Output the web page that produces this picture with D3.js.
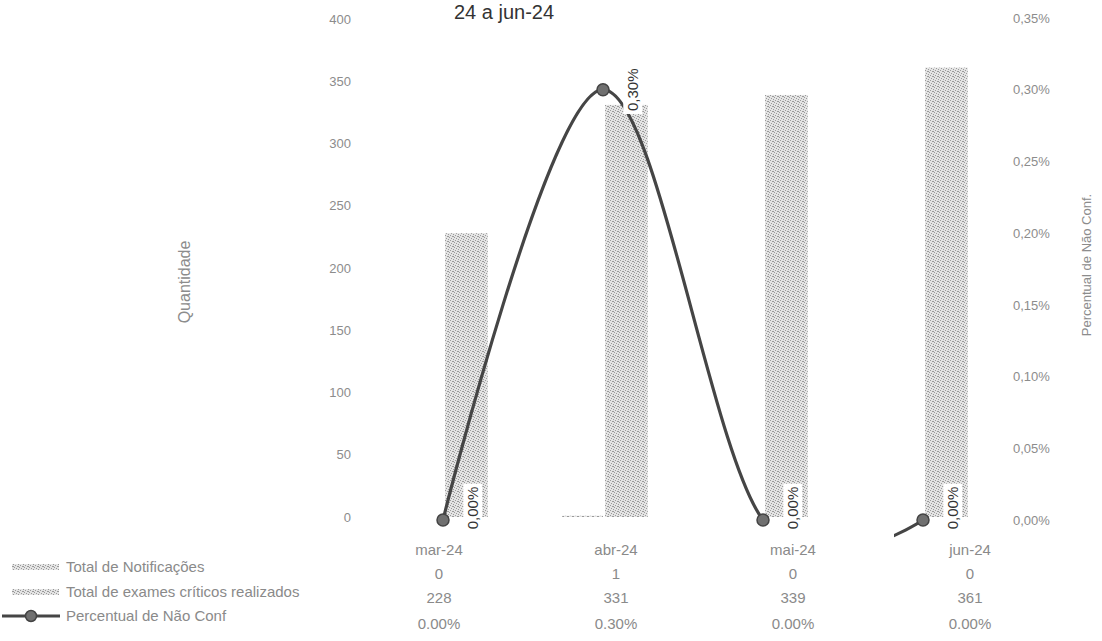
<!DOCTYPE html>
<html><head><meta charset="utf-8">
<script src="https://cdn.jsdelivr.net/npm/d3@7"></script>
<style>
html,body{margin:0;padding:0;background:#fff;}
svg{display:block;font-family:"Liberation Sans",Arial,sans-serif;}
</style></head>
<body>
<svg id="chart" width="1102" height="641"></svg>
<script>
const categories = ["mar-24","abr-24","mai-24","jun-24"];
const notificacoes = [0,1,0,0];
const exames = [228,331,339,361];
const percentual = [0.0000,0.0030,0.0000,0.0000];
const pctLabels = ["0,00%","0,30%","0,00%","0,00%"];
const pctTable = ["0.00%","0.30%","0.00%","0.00%"];
const leftTicks = [0,50,100,150,200,250,300,350,400];
const rightTicks = [0,0.0005,0.001,0.0015,0.002,0.0025,0.003,0.0035];
const seriesNames = ["Total de Notificações","Total de exames críticos realizados","Percentual de Não Conf"];
const titleText = "24 a jun-24";

const svg = d3.select("#chart");
const defs = svg.append("defs");
const pat = defs.append("pattern").attr("id","stip").attr("patternUnits","userSpaceOnUse")
  .attr("width",5).attr("height",5);
pat.append("rect").attr("width",5).attr("height",5).attr("fill","#e4e4e4");
[[0,0],[2,1],[4,2],[1,3],[3,4],[3,1]].forEach(p=>pat.append("rect").attr("x",p[0]).attr("y",p[1]).attr("width",1).attr("height",1).attr("fill","#9a9a9a"));

const x = d3.scaleBand().domain(categories).range([363,1003]).paddingInner(0.49).paddingOuter(0.245);
const xs = d3.scaleBand().domain(["n","e"]).range([0,x.bandwidth()]);
const yL = d3.scaleLinear().domain([0,400]).range([517,19]);
const yR = d3.scaleLinear().domain([0,0.0035]).range([520,18]);
const cx = c => x(c) + x.bandwidth()/2;

// title
svg.append("text").attr("x",504).attr("y",19).attr("text-anchor","middle")
  .attr("font-size",20).attr("fill","#333").text(titleText);

// left axis
const gL = svg.append("g").attr("transform","translate(351,0)")
  .call(d3.axisLeft(yL).tickValues(leftTicks).tickSize(0).tickPadding(0).tickFormat(d3.format("d")));
gL.select(".domain").remove();
gL.selectAll("text").attr("font-size",13).attr("fill","#8c8c8c").attr("font-family","Liberation Sans, Arial");

// right axis
const gR = svg.append("g").attr("transform","translate(1013,0)")
  .call(d3.axisRight(yR).tickValues(rightTicks).tickSize(0).tickPadding(0)
    .tickFormat(d => d3.format(".2%")(d).replace(".",",")));
gR.select(".domain").remove();
gR.selectAll("text").attr("font-size",13).attr("fill","#8c8c8c").attr("font-family","Liberation Sans, Arial");

// axis titles
svg.append("text").attr("transform","translate(190,282) rotate(-90)").attr("text-anchor","middle")
  .attr("font-size",16).attr("fill","#8c8c8c").text("Quantidade");
svg.append("text").attr("transform","translate(1091,265) rotate(-90)").attr("text-anchor","middle")
  .attr("font-size",13).attr("fill","#8c8c8c").text("Percentual de Não Conf.");

// bars
const gb = svg.append("g");
categories.forEach((c,i)=>{
  gb.append("rect").attr("x",x(c)+xs("n")).attr("width",xs.bandwidth())
    .attr("y",yL(notificacoes[i])).attr("height",yL(0)-yL(notificacoes[i])).attr("fill","url(#stip)");
  gb.append("rect").attr("x",x(c)+xs("e")+2).attr("width",xs.bandwidth()+2)
    .attr("y",yL(exames[i])).attr("height",yL(0)-yL(exames[i])).attr("fill","url(#stip)");
});

// line (clipped)
const clip = defs.append("clipPath").attr("id","lineclip");
clip.append("rect").attr("x",360).attr("y",0).attr("width",650).attr("height",522);
clip.append("rect").attr("x",cx(categories[3])-29).attr("y",0).attr("width",40).attr("height",545);
const pts = categories.map((c,i)=>[cx(c), yR(percentual[i])]);
svg.append("path").attr("d", d3.line().curve(d3.curveCardinal)(pts))
  .attr("fill","none").attr("stroke","#454545").attr("stroke-width",3.2)
  .attr("clip-path","url(#lineclip)");
svg.selectAll("circle.m").data(pts).join("circle").attr("class","m")
  .attr("cx",d=>d[0]).attr("cy",d=>d[1]).attr("r",6)
  .attr("fill","#707070").attr("stroke","#444").attr("stroke-width",1.5);

// data labels (kept inside plot area)
categories.forEach((c,i)=>{
  const cy = Math.min(yR(percentual[i]), 508);
  const g = svg.append("g").attr("transform",`translate(${cx(c)+30},${cy}) rotate(-90)`);
  const t = g.append("text").attr("text-anchor","middle").attr("dy","0.35em")
    .attr("font-size",15).attr("fill","#333").text(pctLabels[i]);
  const bb = t.node().getBBox();
  g.insert("rect","text").attr("x",bb.x-3).attr("y",bb.y-1).attr("width",bb.width+6).attr("height",bb.height+2).attr("fill","#fff");
});

// table
const xt = d3.scalePoint().domain(categories).range([439,970]);
const tbl = svg.append("g").attr("font-size",15).attr("fill","#8a8a8a").attr("text-anchor","middle");
categories.forEach((c,i)=>{
  tbl.append("text").attr("x",xt(c)).attr("y",550).attr("dy","0.35em").text(c);
  tbl.append("text").attr("x",xt(c)).attr("y",574).attr("dy","0.35em").text(notificacoes[i]);
  tbl.append("text").attr("x",xt(c)).attr("y",598).attr("dy","0.35em").text(exames[i]);
  tbl.append("text").attr("x",xt(c)).attr("y",624).attr("dy","0.35em").text(pctTable[i]);
});

// legend rows
const legY = [567,592,616];
seriesNames.forEach((s,i)=>{
  svg.append("text").attr("x",66).attr("y",legY[i]).attr("dy","0.35em")
    .attr("font-size",15).attr("fill","#8a8a8a").text(s);
});
[0,1].forEach(i=>{
  svg.append("rect").attr("x",12).attr("y",legY[i]-3).attr("width",47).attr("height",6).attr("fill","url(#stip)");
});
svg.append("line").attr("x1",2).attr("x2",60).attr("y1",legY[2]).attr("y2",legY[2])
  .attr("stroke","#454545").attr("stroke-width",3);
svg.append("circle").attr("cx",31).attr("cy",legY[2]).attr("r",5.5)
  .attr("fill","#707070").attr("stroke","#444").attr("stroke-width",1.5);
</script>
</body></html>
